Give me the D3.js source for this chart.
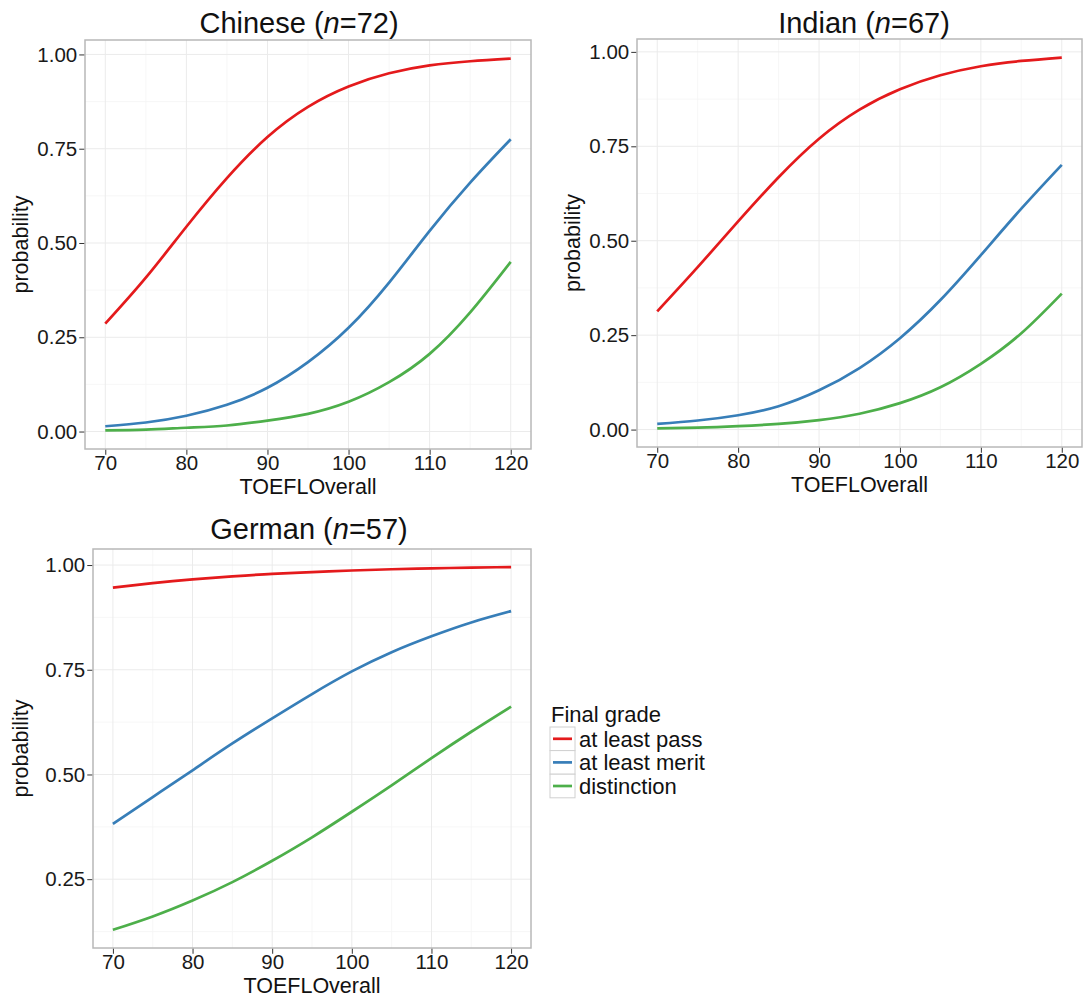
<!DOCTYPE html>
<html>
<head>
<meta charset="utf-8">
<script src="https://cdn.jsdelivr.net/npm/d3@7"></script>
<style>
  html, body { margin: 0; padding: 0; background: #ffffff; }
  svg { display: block; font-family: "Liberation Sans", Arial, sans-serif; }
</style>
</head>
<body>
<svg id="chart" width="1084" height="998"></svg>
<script>
// ---------------- data ----------------
const toefl = [70, 75, 80, 85, 90, 95, 100, 105, 110, 115, 120];

const chinesePass        = [0.286, 0.408, 0.543, 0.672, 0.781, 0.861, 0.915, 0.950, 0.971, 0.982, 0.989];
const chineseMerit       = [0.014, 0.024, 0.042, 0.071, 0.116, 0.184, 0.275, 0.395, 0.532, 0.660, 0.775];
const chineseDistinction = [0.003, 0.005, 0.010, 0.016, 0.029, 0.047, 0.079, 0.131, 0.206, 0.316, 0.450];

const indianPass         = [0.313, 0.430, 0.551, 0.668, 0.770, 0.847, 0.901, 0.938, 0.962, 0.976, 0.985];
const indianMerit        = [0.015, 0.024, 0.038, 0.062, 0.104, 0.163, 0.242, 0.343, 0.462, 0.585, 0.701];
const indianDistinction  = [0.003, 0.005, 0.009, 0.015, 0.025, 0.042, 0.070, 0.112, 0.174, 0.255, 0.360];

const germanPass         = [0.946, 0.957, 0.966, 0.973, 0.979, 0.983, 0.987, 0.990, 0.992, 0.994, 0.995];
const germanMerit        = [0.382, 0.446, 0.510, 0.574, 0.634, 0.692, 0.746, 0.792, 0.830, 0.863, 0.890];
const germanDistinction  = [0.129, 0.161, 0.199, 0.243, 0.294, 0.350, 0.411, 0.474, 0.539, 0.602, 0.662];

const groupNames = ["Chinese", "Indian", "German"];
const groupN = [72, 67, 57];
const seriesLabels = ["at least pass", "at least merit", "distinction"];
const seriesColors = ["#e41a1c", "#377eb8", "#4daf4a"];
const xTicks = [70, 80, 90, 100, 110, 120];
const yTicks = [0, 0.25, 0.5, 0.75, 1.0];
const xLabel = "TOEFLOverall";
const yLabel = "probability";
const legendTitle = "Final grade";

const groupSeries = [
  [chinesePass, chineseMerit, chineseDistinction],
  [indianPass, indianMerit, indianDistinction],
  [germanPass, germanMerit, germanDistinction]
];

// ---------------- layout ----------------
const panels = [
  { left: 85,  top: 40,  right: 531,  bottom: 449, titleX: 299, titleY: 33,  yTitleX: 28 },
  { left: 637, top: 39,  right: 1082, bottom: 447, titleX: 864, titleY: 33,  yTitleX: 580 },
  { left: 93,  top: 549, right: 531,  bottom: 948, titleX: 309, titleY: 539, yTitleX: 28 }
];

const svg = d3.select("#chart");
const tickFont = 20.5, axisTitleFont = 21.5, titleFont = 29;

function expand(ext, f) {
  const r = ext[1] - ext[0];
  return [ext[0] - r * f, ext[1] + r * f];
}

panels.forEach((p, gi) => {
  const series = groupSeries[gi];
  const xDom = expand(d3.extent(toefl), 0.05);
  const allY = series.flat();
  const yDom = expand(d3.extent(allY), 0.05);

  const x = d3.scaleLinear().domain(xDom).range([p.left, p.right]);
  const y = d3.scaleLinear().domain(yDom).range([p.bottom, p.top]);

  const g = svg.append("g");

  g.append("rect")
    .attr("x", p.left).attr("y", p.top)
    .attr("width", p.right - p.left).attr("height", p.bottom - p.top)
    .attr("fill", "#ffffff");

  // minor grid
  const xMinor = xTicks.slice(0, -1).map((t, i) => (t + xTicks[i + 1]) / 2);
  const yMinor = yTicks.slice(0, -1).map((t, i) => (t + yTicks[i + 1]) / 2)
    .filter(v => v >= yDom[0] && v <= yDom[1]);
  g.selectAll(".xminor").data(xMinor).join("line")
    .attr("x1", d => x(d)).attr("x2", d => x(d))
    .attr("y1", p.top).attr("y2", p.bottom)
    .attr("stroke", "#f5f5f5").attr("stroke-width", 0.8);
  g.selectAll(".yminor").data(yMinor).join("line")
    .attr("x1", p.left).attr("x2", p.right)
    .attr("y1", d => y(d)).attr("y2", d => y(d))
    .attr("stroke", "#f5f5f5").attr("stroke-width", 0.8);

  // major grid
  const yMajor = yTicks.filter(v => v >= yDom[0] && v <= yDom[1]);
  g.selectAll(".xmajor").data(xTicks).join("line")
    .attr("x1", d => x(d)).attr("x2", d => x(d))
    .attr("y1", p.top).attr("y2", p.bottom)
    .attr("stroke", "#ebebeb").attr("stroke-width", 1);
  g.selectAll(".ymajor").data(yMajor).join("line")
    .attr("x1", p.left).attr("x2", p.right)
    .attr("y1", d => y(d)).attr("y2", d => y(d))
    .attr("stroke", "#ebebeb").attr("stroke-width", 1);

  // lines
  const line = d3.line()
    .x((d, i) => x(toefl[i]))
    .y(d => y(d))
    .curve(d3.curveNatural);
  series.forEach((s, si) => {
    g.append("path")
      .datum(s)
      .attr("d", line)
      .attr("fill", "none")
      .attr("stroke", seriesColors[si])
      .attr("stroke-width", 2.7)
      .attr("stroke-linecap", "butt");
  });

  // panel border
  g.append("rect")
    .attr("x", p.left).attr("y", p.top)
    .attr("width", p.right - p.left).attr("height", p.bottom - p.top)
    .attr("fill", "none")
    .attr("stroke", "#b8b8b8").attr("stroke-width", 1.5);

  // axes
  const xAxis = d3.axisBottom(x).tickValues(xTicks).tickSize(5).tickPadding(1)
    .tickFormat(d3.format("d"));
  const yAxis = d3.axisLeft(y).tickValues(yMajor).tickSize(5).tickPadding(2)
    .tickFormat(d3.format(".2f"));

  const gx = g.append("g").attr("transform", `translate(0,${p.bottom + 0.75})`).call(xAxis);
  const gy = g.append("g").attr("transform", `translate(${p.left - 0.75},0)`).call(yAxis);
  [gx, gy].forEach(ax => {
    ax.select(".domain").remove();
    ax.selectAll(".tick line").attr("stroke", "#333333").attr("stroke-width", 1);
    ax.selectAll(".tick text")
      .attr("fill", "#1a1a1a")
      .style("font-size", tickFont + "px")
      .style("font-family", '"Liberation Sans", Arial, sans-serif');
  });

  // axis titles
  g.append("text")
    .attr("x", (p.left + p.right) / 2)
    .attr("y", p.bottom + 45)
    .attr("text-anchor", "middle")
    .attr("fill", "#111111")
    .style("font-size", axisTitleFont + "px")
    .text(xLabel);

  g.append("text")
    .attr("transform", `translate(${p.yTitleX},${(p.top + p.bottom) / 2}) rotate(-90)`)
    .attr("text-anchor", "middle")
    .attr("fill", "#111111")
    .style("font-size", axisTitleFont + "px")
    .text(yLabel);

  // title
  const t = g.append("text")
    .attr("x", p.titleX).attr("y", p.titleY)
    .attr("text-anchor", "middle")
    .attr("fill", "#111111")
    .style("font-size", titleFont + "px");
  t.append("tspan").text(groupNames[gi] + " (");
  t.append("tspan").attr("font-style", "italic").text("n");
  t.append("tspan").text("=" + groupN[gi] + ")");
});

// ---------------- legend ----------------
const legend = svg.append("g").attr("transform", "translate(550,0)");
legend.append("text")
  .attr("x", 1).attr("y", 722)
  .attr("fill", "#111111")
  .style("font-size", "22px")
  .text(legendTitle);

const keyH = 23.6, keyW = 25, keyTop = 727;
seriesLabels.forEach((lab, i) => {
  const ky = keyTop + i * keyH;
  legend.append("rect")
    .attr("x", 0).attr("y", ky)
    .attr("width", keyW).attr("height", keyH)
    .attr("fill", "#ffffff")
    .attr("stroke", "#d0d0d0").attr("stroke-width", 1);
  legend.append("line")
    .attr("x1", 3).attr("x2", keyW - 3)
    .attr("y1", ky + keyH / 2).attr("y2", ky + keyH / 2)
    .attr("stroke", seriesColors[i]).attr("stroke-width", 2.7);
  legend.append("text")
    .attr("x", keyW + 4).attr("y", ky + keyH / 2)
    .attr("dy", "0.35em")
    .attr("fill", "#111111")
    .style("font-size", "22px")
    .text(lab);
});
</script>
</body>
</html>
